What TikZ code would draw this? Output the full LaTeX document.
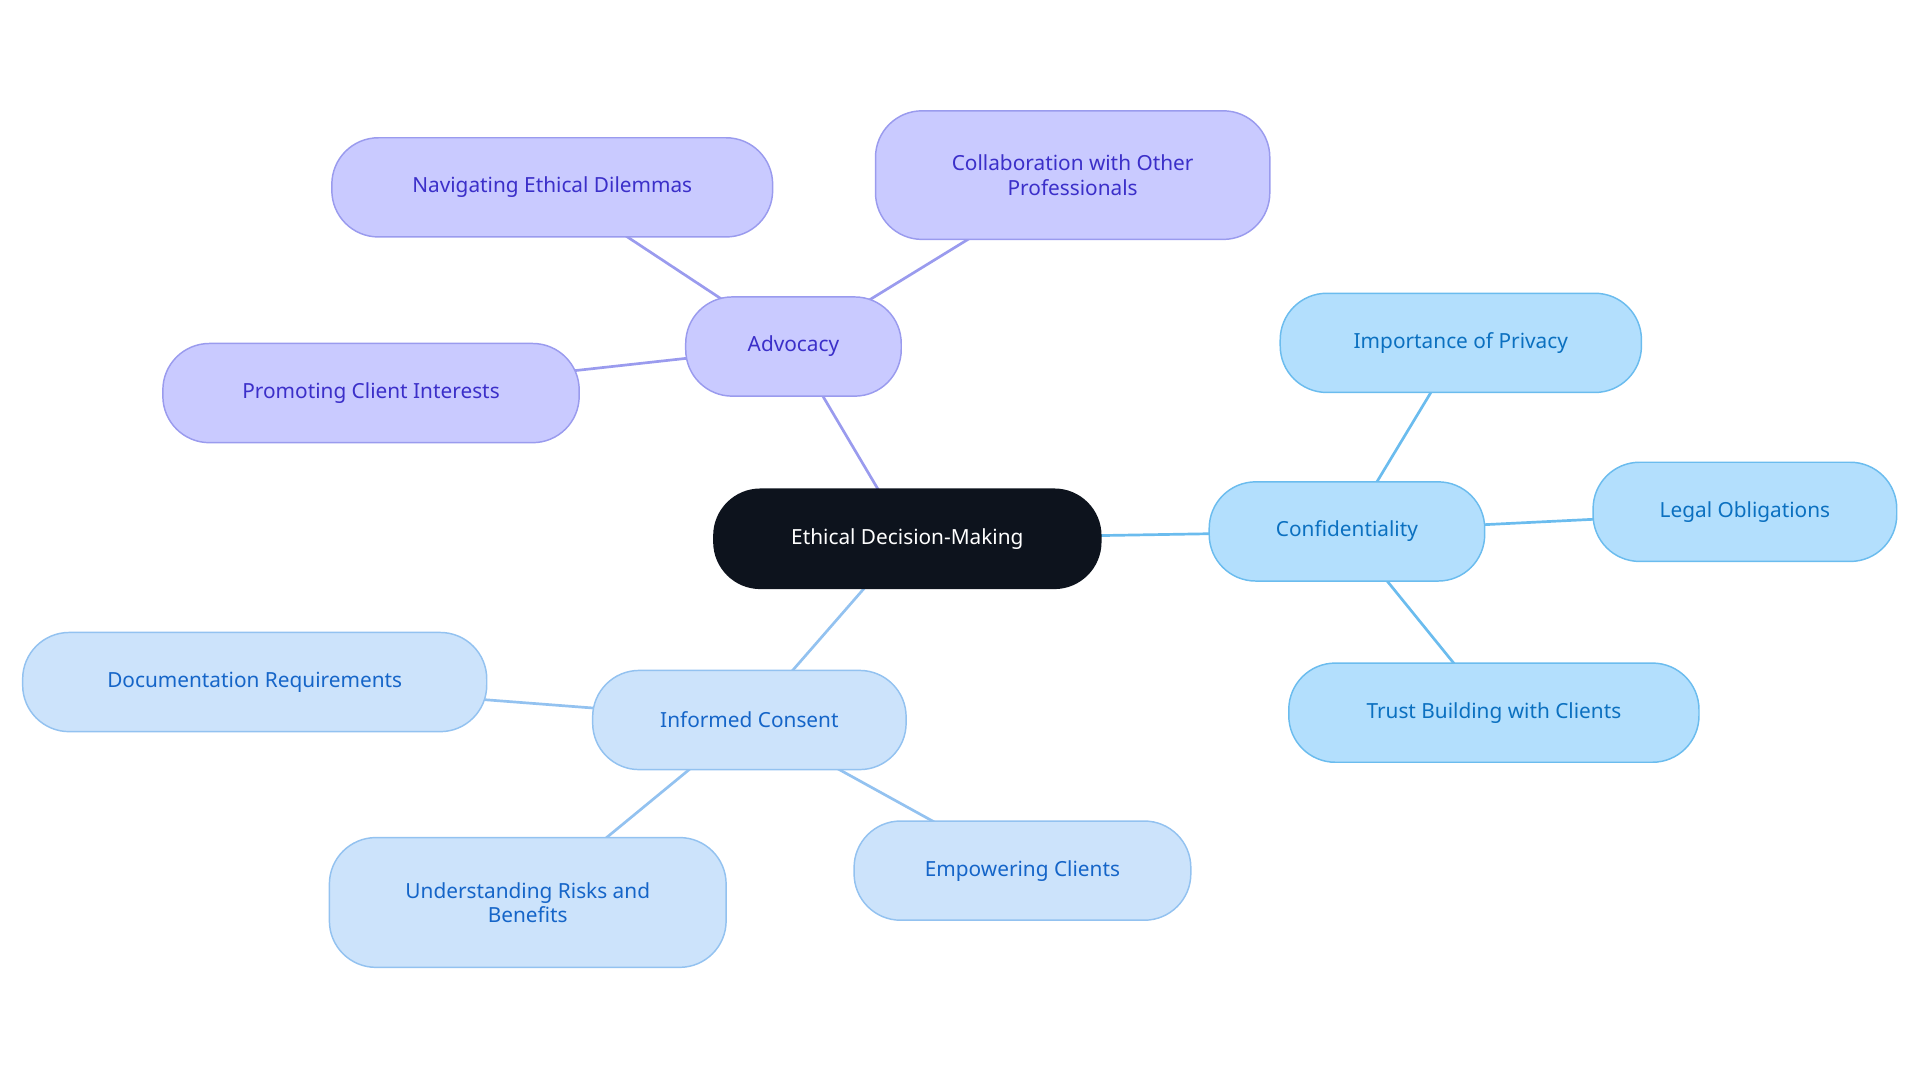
\documentclass[tikz,border=0pt]{standalone}
\usepackage{fontspec}
\setmainfont{Noto Sans}
\usetikzlibrary{backgrounds}
\definecolor{cdark}{HTML}{0D131D}
\definecolor{pfill}{HTML}{C9CAFF}\definecolor{pline}{HTML}{9A9BEE}\definecolor{ptext}{HTML}{3B2FC9}
\definecolor{cfill}{HTML}{B3DFFD}\definecolor{cline}{HTML}{6BBCEE}\definecolor{ctext}{HTML}{0B70C0}
\definecolor{ifill}{HTML}{CCE3FB}\definecolor{iline}{HTML}{93C2F0}\definecolor{itext}{HTML}{1565C8}
\begin{document}
\begin{tikzpicture}[x=1pt,y=-1pt,
 box/.style={draw,rounded corners=38pt,line width=1.2pt,minimum height=81pt,align=center,font=\fontsize{17}{20}\selectfont,inner sep=0pt},
 adv/.style={box,fill=pfill,draw=pline,text=ptext},
 con/.style={box,fill=cfill,draw=cline,text=ctext},
 inf/.style={box,fill=ifill,draw=iline,text=itext},
 pe/.style={draw=pline,line width=2.2pt},
 ce/.style={draw=cline,line width=2.2pt},
 ie/.style={draw=iline,line width=2.2pt}]
\useasboundingbox (0,0) rectangle (1568,884);
\node[box,fill=cdark,draw=cdark,text=white,minimum width=316pt] (root) at (741,440) {Ethical Decision-Making};
\node[adv,minimum width=176pt] (adv) at (648,283) {Advocacy};
\node[adv,minimum width=360pt] (nav) at (451,153) {Navigating Ethical Dilemmas};
\node[adv,minimum width=322pt,minimum height=105pt] (col) at (876,143) {Collaboration with Other\\Professionals};
\node[adv,minimum width=340pt] (pro) at (303,321) {Promoting Client Interests};
\node[con,minimum width=225pt] (conf) at (1100,434) {Confidentiality};
\node[con,minimum width=295pt] (imp) at (1193,280) {Importance of Privacy};
\node[con,minimum width=248pt] (leg) at (1425,418) {Legal Obligations};
\node[con,minimum width=335pt] (tru) at (1220,582) {Trust Building with Clients};
\node[inf,minimum width=256pt] (ic) at (612,588) {Informed Consent};
\node[inf,minimum width=379pt] (doc) at (208,557) {Documentation Requirements};
\node[inf,minimum width=324pt,minimum height=106pt] (und) at (431,737) {Understanding Risks and\\Benefits};
\node[inf,minimum width=275pt] (emp) at (835,711) {Empowering Clients};
\begin{scope}[on background layer]
\draw[pe] (root.center) -- (adv.center);
\draw[pe] (adv.center) -- (nav.center);
\draw[pe] (adv.center) -- (col.center);
\draw[pe] (adv.center) -- (pro.center);
\draw[ce] (root.center) -- (conf.center);
\draw[ce] (conf.center) -- (imp.center);
\draw[ce] (conf.center) -- (leg.center);
\draw[ce] (conf.center) -- (tru.center);
\draw[ie] (root.center) -- (ic.center);
\draw[ie] (ic.center) -- (doc.center);
\draw[ie] (ic.center) -- (und.center);
\draw[ie] (ic.center) -- (emp.center);
\end{scope}
\end{tikzpicture}
\end{document}
